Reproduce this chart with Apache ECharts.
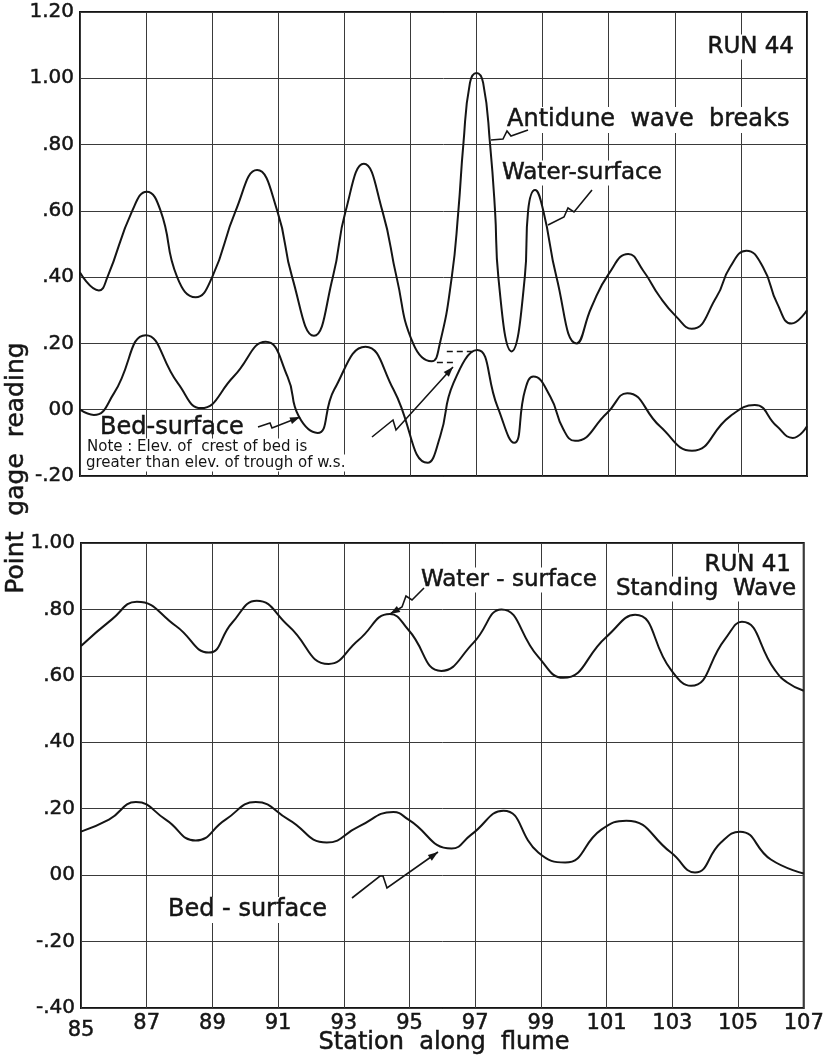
<!DOCTYPE html>
<html>
<head>
<meta charset="utf-8">
<script src="https://cdn.jsdelivr.net/npm/echarts@6/dist/echarts.min.js"></script>
<style>
html,body{margin:0;padding:0;background:#fff;}
#chart{width:827px;height:1060px;}
</style>
</head>
<body>
<div id="chart"></div>
<script>
// ---------- DATA ----------
const xTicks = [85, 87, 89, 91, 93, 95, 97, 99, 101, 103, 105, 107];
const topYLabels = ['-.20', '00', '.20', '.40', '.60', '.80', '1.00', '1.20'];
const bottomYLabels = ['-.40', '-.20', '00', '.20', '.40', '.60', '.80', '1.00'];

// RUN 44 — water surface
const ws44Station = [85, 85.57, 85.83, 86.58, 87.02, 87.44, 87.94, 88.5, 89.0, 89.71, 90.36, 90.97, 91.42, 92.08, 92.65, 93.04, 93.59, 94.15, 94.58, 95.08, 95.64, 95.89, 96.25, 96.45, 96.6, 96.8, 97.0, 97.2, 97.41, 97.56, 97.66, 98.06, 98.46, 98.56, 98.77, 99.02, 99.42, 100.03, 100.48, 101.0, 101.59, 102.04, 102.55, 103.05, 103.51, 104.26, 104.67, 105.17, 105.67, 106.1, 106.53, 107];
const ws44Value   = [0.414, 0.36, 0.40, 0.60, 0.658, 0.60, 0.40, 0.339, 0.40, 0.60, 0.723, 0.60, 0.40, 0.223, 0.40, 0.60, 0.742, 0.60, 0.40, 0.20, 0.146, 0.20, 0.40, 0.60, 0.80, 0.986, 1.016, 0.986, 0.80, 0.60, 0.40, 0.176, 0.40, 0.60, 0.663, 0.60, 0.40, 0.20, 0.31, 0.41, 0.47, 0.42, 0.34, 0.28, 0.244, 0.34, 0.43, 0.48, 0.43, 0.32, 0.26, 0.30];

// RUN 44 — bed surface
const bed44Station = [85, 85.42, 86.03, 86.99, 87.96, 88.66, 89.65, 90.62, 91.28, 91.62, 92.19, 92.69, 93.64, 94.49, 95.52, 95.9, 96.3, 97.02, 97.63, 98.14, 98.47, 98.72, 99.23, 99.63, 99.98, 100.95, 101.56, 102.55, 103.52, 104.67, 105.42, 106.09, 106.57, 107];
const bed44Value   = [0.0, -0.016, 0.05, 0.225, 0.08, 0.005, 0.10, 0.205, 0.10, -0.02, -0.07, 0.06, 0.19, 0.06, -0.16, -0.08, 0.08, 0.18, 0.01, -0.10, 0.06, 0.10, 0.04, -0.06, -0.094, -0.01, 0.05, -0.05, -0.124, -0.02, 0.014, -0.05, -0.085, -0.05];

// RUN 44 — note levels: [from station, to station, level]
const crestLevel = [96.1, 96.9, 0.177];
const troughLevel = [95.8, 96.35, 0.144];

// RUN 41 — water surface
const ws41Station = [85, 85.94, 86.7, 87.89, 88.89, 89.6, 90.35, 91.32, 92.54, 93.45, 94.4, 94.97, 95.97, 96.95, 97.8, 98.92, 99.68, 100.99, 101.87, 102.96, 103.57, 104.6, 105.12, 106.12, 106.5, 107];
const ws41Value   = [0.69, 0.77, 0.823, 0.75, 0.67, 0.76, 0.826, 0.75, 0.636, 0.708, 0.786, 0.738, 0.615, 0.70, 0.80, 0.657, 0.594, 0.717, 0.784, 0.618, 0.57, 0.71, 0.763, 0.618, 0.58, 0.555];

// RUN 41 — bed surface
const bed41Station = [85, 85.85, 86.67, 87.58, 88.49, 89.4, 90.32, 91.32, 92.48, 93.45, 94.51, 94.97, 96.28, 96.88, 97.86, 98.92, 99.74, 100.84, 101.6, 102.96, 103.69, 104.48, 105.06, 106.0, 107];
const bed41Value   = [0.131, 0.167, 0.22, 0.167, 0.104, 0.167, 0.22, 0.167, 0.098, 0.146, 0.19, 0.167, 0.08, 0.122, 0.194, 0.068, 0.038, 0.137, 0.164, 0.068, 0.008, 0.098, 0.131, 0.047, 0.005];

// ---------- BUILD ----------
const zip = (xs, ys) => xs.map((x, i) => [x, ys[i]]);
const INK = '#151515';
const FONT = '"DejaVu Sans", "Noto Sans", sans-serif';

function xAxisFor(grid, showLabels) {
  return {
    gridIndex: grid, type: 'value', min: 85, max: 107,
    axisLine: { show: false },
    axisTick: { show: false, customValues: xTicks },
    axisLabel: {
      show: showLabels, customValues: xTicks, color: INK, fontSize: 21, fontFamily: FONT, margin: 5,
      textBorderColor: INK, textBorderWidth: 0.5,
      formatter: v => (v === xTicks[0] ? '{low|' + v + '}' : String(v)),
      rich: { low: { fontSize: 21, fontFamily: FONT, color: INK, padding: [7, 0, 0, 0], textBorderColor: INK, textBorderWidth: 0.5 } }
    },
    splitLine: { show: true, lineStyle: { color: '#3a3a3a', width: 1 } }
  };
}
function yAxisFor(grid, min, max, labels) {
  return {
    gridIndex: grid, type: 'value', min: min, max: max, interval: 0.2,
    axisLine: { show: false },
    axisTick: { show: false },
    axisLabel: {
      color: INK, fontSize: 20, fontFamily: FONT, margin: 6,
      textBorderColor: INK, textBorderWidth: 0.5,
      formatter: v => labels[Math.round((v - min) / 0.2)]
    },
    splitLine: { show: true, lineStyle: { color: '#3a3a3a', width: 1 } }
  };
}
function curve(xi, yi, data, extra) {
  return Object.assign({
    type: 'line', xAxisIndex: xi, yAxisIndex: yi, data: data,
    smooth: 0.5, symbol: 'none', silent: true,
    lineStyle: { color: INK, width: 2 }
  }, extra || {});
}

function txt(x, y, s, size, align, bg, thin) {
  return {
    type: 'text', x: x, y: y, z: 50,
    style: {
      text: s, font: size + 'px ' + FONT, fill: INK,
      stroke: thin ? null : INK, lineWidth: thin ? 0 : 0.5,
      align: align || 'left', verticalAlign: 'middle',
      backgroundColor: bg === false ? null : '#fff', padding: [1, 2]
    }
  };
}
function leader(pts, head) {
  const els = [{ type: 'polyline', z: 60, shape: { points: pts }, style: { stroke: INK, lineWidth: 1.6, fill: null } }];
  if (head) {
    const [x1, y1] = pts[pts.length - 2], [x2, y2] = pts[pts.length - 1];
    const a = Math.atan2(y2 - y1, x2 - x1), L = 10, W = 3.5;
    const bx = x2 - L * Math.cos(a), by = y2 - L * Math.sin(a);
    els.push({ type: 'polygon', z: 60, shape: { points: [[x2, y2], [bx + W * Math.sin(a), by - W * Math.cos(a)], [bx - W * Math.sin(a), by + W * Math.cos(a)]] }, style: { fill: INK } });
  }
  return els;
}

const graphics = [].concat(
  [
    txt(796, 47, 'RUN 44', 23, 'right'),
    txt(505, 120, 'Antidune  wave  breaks', 24),
    txt(500, 173, 'Water-surface', 23),
    txt(98, 428, 'Bed-surface', 24, 'left', false),
    txt(85, 447, 'Note : Elev. of  crest of bed is', 15, 'left', true, true),
    txt(84, 463, 'greater than elev. of trough of w.s.', 15, 'left', true, true),
    txt(793, 565, 'RUN 41', 23, 'right'),
    txt(614, 589, 'Standing  Wave', 23),
    txt(419, 580, 'Water - surface', 23),
    txt(166, 910, 'Bed - surface', 24),
    txt(444, 1043, 'Station  along  flume', 24, 'center', false),
    {
      type: 'text', x: 16, y: 468, rotation: Math.PI / 2, z: 50,
      style: { text: 'Point  gage  reading', font: '25px ' + FONT, fill: INK, stroke: INK, lineWidth: 0.5, align: 'center', verticalAlign: 'middle' }
    }
  ],
  leader([[528, 130], [511, 136], [507, 131], [503, 139], [491, 140]], false),
  leader([[592, 190], [574, 212], [568, 208], [564, 217], [548, 225]], false),
  leader([[258, 427], [270, 423], [272, 428], [300, 417]], true),
  leader([[372, 437], [393, 420], [396, 430], [453, 367]], true),
  leader([[424, 588], [412, 600], [406, 596], [402, 607], [390, 614]], true),
  leader([[352, 898], [380, 876], [383, 876], [387, 888], [438, 852]], true)
);

const chart = echarts.init(document.getElementById('chart'), null, { renderer: 'canvas' });
chart.setOption({
  animation: false,
  backgroundColor: '#fff',
  grid: [
    { left: 80, right: 20, top: 12, bottom: 584, show: true, borderColor: INK, borderWidth: 2 },
    { left: 81, right: 21, top: 543, bottom: 52, show: true, borderColor: INK, borderWidth: 2 }
  ],
  xAxis: [xAxisFor(0, false), xAxisFor(1, true)],
  yAxis: [yAxisFor(0, -0.2, 1.2, topYLabels), yAxisFor(1, -0.4, 1.0, bottomYLabels)],
  series: [
    curve(0, 0, zip(ws44Station, ws44Value)),
    curve(0, 0, zip(bed44Station, bed44Value), {
      markLine: {
        silent: true, symbol: 'none', label: { show: false },
        lineStyle: { color: INK, type: [6, 4], width: 1.4 },
        data: [
          [{ coord: [crestLevel[0], crestLevel[2]] }, { coord: [crestLevel[1], crestLevel[2]] }],
          [{ coord: [troughLevel[0], troughLevel[2]] }, { coord: [troughLevel[1], troughLevel[2]] }]
        ]
      }
    }),
    curve(1, 1, zip(ws41Station, ws41Value)),
    curve(1, 1, zip(bed41Station, bed41Value))
  ],
  graphic: graphics
});
</script>
</body>
</html>
